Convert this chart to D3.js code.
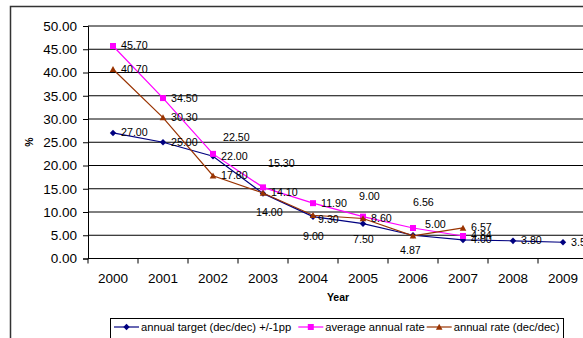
<!DOCTYPE html>
<html>
<head>
<meta charset="utf-8">
<script src="https://cdn.jsdelivr.net/npm/d3@7"></script>
<style>
  body { margin: 0; background: #fff; }
  svg { display: block; font-family: "Liberation Sans", Arial, sans-serif; }
</style>
</head>
<body>
<div id="chart"></div>
<script>
// chart data
var years = [2000, 2001, 2002, 2003, 2004, 2005, 2006, 2007, 2008, 2009];
var targetRate = [27.00, 25.00, 22.00, 14.00, 9.00, 7.50, 5.00, 4.00, 3.80, 3.50];
var averageRate = [45.70, 34.50, 22.50, 15.30, 11.90, 9.00, 6.56, 4.84];
var decDecRate = [40.70, 30.30, 17.80, 14.10, 9.30, 8.60, 4.87, 6.57];
var yTickValues = [0, 5, 10, 15, 20, 25, 30, 35, 40, 45, 50];
var seriesNames = ["annual target (dec/dec) +/-1pp", "average annual rate", "annual rate (dec/dec)"];

var width = 583, height = 338;

var svg = d3.select("#chart").append("svg")
    .attr("width", width)
    .attr("height", height);

// outer chart border (runs off the picture on the right and bottom)
svg.append("rect")
    .attr("x", 10.5).attr("y", 6.5)
    .attr("width", 700).attr("height", 400)
    .attr("fill", "none")
    .attr("stroke", "#333")
    .attr("stroke-width", 1.5);

// scales
var x = d3.scaleBand().domain(years).range([88, 588]).padding(0);
var y = d3.scaleLinear().domain([0, 50]).range([258.5, 26]);

// gridlines
svg.append("g")
    .selectAll("line")
    .data(yTickValues.filter(function (d) { return d > 0; }))
    .enter().append("line")
    .attr("x1", 88).attr("x2", 600)
    .attr("y1", function (d) { return y(d); })
    .attr("y2", function (d) { return y(d); })
    .attr("stroke", "#000")
    .attr("stroke-width", 1);

// y axis
var yAxis = svg.append("g")
    .attr("transform", "translate(88,0)")
    .call(d3.axisLeft(y).tickValues(yTickValues).tickFormat(d3.format(".2f")).tickSize(5).tickPadding(6));
yAxis.select(".domain").attr("stroke", "#000");
yAxis.selectAll(".tick line").attr("stroke", "#000");
yAxis.selectAll("text")
    .attr("font-size", "13.5px")
    .attr("font-family", "Liberation Sans, Arial, sans-serif")
    .attr("fill", "#000");

// x axis (labels centred in each category, ticks on the boundaries)
var xAxis = svg.append("g")
    .attr("transform", "translate(0," + y(0) + ")")
    .call(d3.axisBottom(x).tickSize(0).tickPadding(15));
xAxis.select(".domain").attr("stroke", "#000").attr("d", "M88,0H600");
xAxis.selectAll("text")
    .attr("font-size", "13.5px")
    .attr("font-family", "Liberation Sans, Arial, sans-serif")
    .attr("fill", "#000");
xAxis.selectAll(".boundary")
    .data(years)
    .enter().append("line")
    .attr("class", "boundary")
    .attr("x1", function (d) { return x(d); })
    .attr("x2", function (d) { return x(d); })
    .attr("y1", 0).attr("y2", 5)
    .attr("stroke", "#000");

// axis titles
svg.append("text")
    .attr("x", 338).attr("y", 297)
    .attr("text-anchor", "middle")
    .attr("dominant-baseline", "central")
    .attr("font-size", "10.5px")
    .attr("font-weight", "bold")
    .text("Year");

svg.append("text")
    .attr("transform", "translate(29,142) rotate(-90)")
    .attr("text-anchor", "middle")
    .attr("dominant-baseline", "central")
    .attr("font-size", "10.5px")
    .attr("font-weight", "bold")
    .text("%");

// series
var colors = ["#000080", "#ff00ff", "#993300"];
var markers = [
    "M0,-3.3L3.2,0L0,3.3L-3.2,0Z",
    "M-3,-3h6v6h-6Z",
    "M0,-3.3L3.3,2.7L-3.3,2.7Z"
];
var seriesValues = [targetRate, averageRate, decDecRate];

// hand placed data labels (offset from point), default is right of point
var labelOffsets = [
    { 2003: [-7, 19], 2004: [-10, 20], 2005: [-10, 16], 2006: [12, -11] },
    { 2002: [10, -16], 2003: [5, -24], 2005: [-4, -20], 2006: [0, -25] },
    { 2004: [5, 4], 2006: [-13, 15] }
];

var line = d3.line()
    .x(function (d) { return x(d.year) + x.bandwidth() / 2; })
    .y(function (d) { return y(d.value); });

var seriesData = seriesValues.map(function (vals) {
    return vals.map(function (v, i) { return { year: years[i], value: v }; });
});

seriesData.forEach(function (data, s) {
    var g = svg.append("g");
    g.append("path")
        .datum(data)
        .attr("fill", "none")
        .attr("stroke", colors[s])
        .attr("stroke-width", 1.2)
        .attr("d", line);
    g.selectAll(".marker")
        .data(data)
        .enter().append("path")
        .attr("class", "marker")
        .attr("transform", function (d) {
            return "translate(" + (x(d.year) + x.bandwidth() / 2) + "," + y(d.value) + ")";
        })
        .attr("d", markers[s])
        .attr("fill", colors[s]);
});

seriesData.forEach(function (data, s) {
    svg.append("g")
        .selectAll("text")
        .data(data)
        .enter().append("text")
        .attr("x", function (d) {
            var off = labelOffsets[s][d.year] || [8, 0];
            return x(d.year) + x.bandwidth() / 2 + off[0];
        })
        .attr("y", function (d) {
            var off = labelOffsets[s][d.year] || [8, 0];
            return y(d.value) + off[1] - 0.5;
        })
        .attr("dominant-baseline", "central")
        .attr("font-size", "10.7px")
        .attr("fill", "#000")
        .text(function (d) { return d3.format(".2f")(d.value); });
});

// legend
var legend = svg.append("g");
legend.append("rect")
    .attr("x", 110.5).attr("y", 318.5)
    .attr("width", 453).attr("height", 30)
    .attr("fill", "#fff")
    .attr("stroke", "#000")
    .attr("stroke-width", 1);

var legendX = [114, 298.3, 426.7];
seriesNames.forEach(function (name, s) {
    var item = legend.append("g")
        .attr("transform", "translate(" + legendX[s] + ",327)");
    item.append("line")
        .attr("x1", 0).attr("x2", 25)
        .attr("stroke", colors[s])
        .attr("stroke-width", 1.2);
    item.append("path")
        .attr("transform", "translate(12.5,0)")
        .attr("d", markers[s])
        .attr("fill", colors[s]);
    item.append("text")
        .attr("x", 27)
        .attr("dominant-baseline", "central")
        .attr("font-size", "11.2px")
        .attr("fill", "#000")
        .text(name);
});
</script>
</body>
</html>
